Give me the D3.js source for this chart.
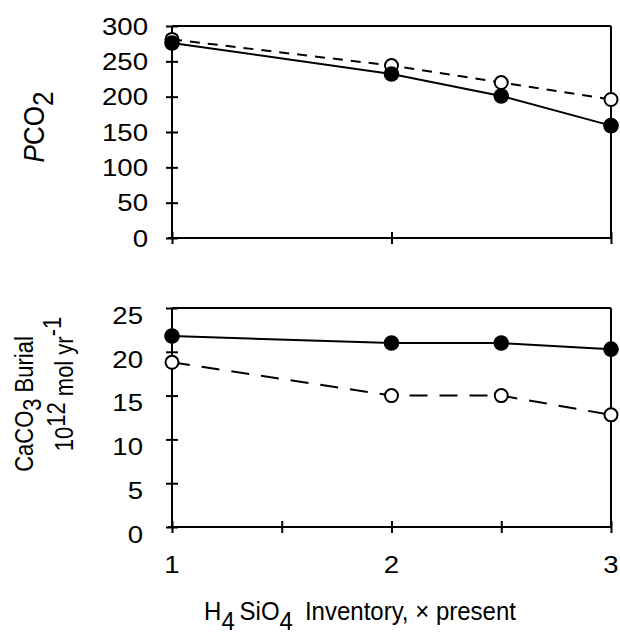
<!DOCTYPE html>
<html>
<head>
<meta charset="utf-8">
<script src="https://cdn.jsdelivr.net/npm/d3@7"></script>
<style>
  html, body { margin: 0; padding: 0; background: #fff; }
  svg text { font-family: "Liberation Sans", Arial, Helvetica, sans-serif; fill: #000; }
</style>
</head>
<body>
<svg id="chart" width="620" height="637"></svg>
<script>
// ---- data ----
const sio4 = [1, 2, 2.5, 3];                     // H4SiO4 inventory, x present
const pco2Filled = [276, 232, 201, 159];          // solid line, filled circles
const pco2Open = [281, 244, 220, 196];            // dashed line, open circles
const burialFilled = [21.8, 21.0, 21.0, 20.3];    // solid line, filled circles
const burialOpen = [18.8, 15.0, 15.0, 12.8];      // dashed line, open circles
const pco2Ticks = [0, 50, 100, 150, 200, 250, 300];
const burialTicks = [0, 5, 10, 15, 20, 25];
const xTicksTop = [1, 2, 3];
const xTicksBottom = [1, 1.5, 2, 2.5, 3];
const xTickLabels = [1, 2, 3];

// ---- layout ----
const svg = d3.select("#chart");
const SX = 1.2; // horizontal stretch of glyphs in the reference
const x = d3.scaleLinear().domain([1, 3]).range([172, 611]);
const yTop = d3.scaleLinear().domain([0, 300]).range([238, 26]);
const yBot = d3.scaleLinear().domain([0, 25]).range([527, 308]);

function panel(y, yTicks, xTicks, filled, open, dash, labelOffX, labelOffY) {
  const g = svg.append("g");
  // frame top and right
  g.append("line").attr("x1", x(1)).attr("x2", x(3)).attr("y1", y.range()[1]).attr("y2", y.range()[1])
    .attr("stroke", "#000").attr("stroke-width", 2);
  g.append("line").attr("x1", x(3)).attr("x2", x(3)).attr("y1", y.range()[0]).attr("y2", y.range()[1])
    .attr("stroke", "#000").attr("stroke-width", 2);

  // y axis
  const ya = g.append("g").attr("transform", `translate(${x(1)},0)`)
    .call(d3.axisLeft(y).tickValues(yTicks).tickSize(6).tickFormat(d3.format("d")));
  ya.select(".domain").attr("stroke-width", 2).attr("d", `M0,${y.range()[0]}V${y.range()[1]}`);
  ya.selectAll(".tick line").attr("x1", 6).attr("x2", -6).attr("stroke-width", 2);
  ya.selectAll(".tick text")
    .attr("x", 0).attr("dy", "0.36em")
    .attr("font-size", 23)
    .attr("transform", `translate(${labelOffX},${labelOffY}) scale(${SX},1)`);

  // x axis
  const xa = g.append("g").attr("transform", `translate(0,${y.range()[0]})`)
    .call(d3.axisBottom(x).tickValues(xTicks).tickSize(6).tickFormat(""));
  xa.select(".domain").attr("stroke-width", 2).attr("d", `M${x(1) - 4},0H${x(3)}`);
  xa.selectAll(".tick line").attr("y1", -6).attr("y2", 6).attr("stroke-width", 2);

  // lines
  const line = v => d3.line().x((d, i) => x(sio4[i])).y(d => y(d))(v);
  g.append("path").attr("d", line(open)).attr("fill", "none").attr("stroke", "#000")
    .attr("stroke-width", 2).attr("stroke-dasharray", dash);
  g.append("path").attr("d", line(filled)).attr("fill", "none").attr("stroke", "#000")
    .attr("stroke-width", 2);
  // markers
  g.selectAll("circle.open").data(open).enter().append("circle").attr("class", "open")
    .attr("cx", (d, i) => x(sio4[i])).attr("cy", d => y(d)).attr("r", 6.5)
    .attr("fill", "#fff").attr("stroke", "#000").attr("stroke-width", 2);
  g.selectAll("circle.filled").data(filled).enter().append("circle").attr("class", "filled")
    .attr("cx", (d, i) => x(sio4[i])).attr("cy", d => y(d)).attr("r", 7.8)
    .attr("fill", "#000");
  return g;
}

panel(yTop, pco2Ticks, xTicksTop, pco2Filled, pco2Open, "10,8", -24, 0);
const gb = panel(yBot, burialTicks, xTicksBottom, burialFilled, burialOpen, "18,12", -29, 7);

// x tick labels (bottom panel only)
gb.selectAll("g.xlab").data(xTickLabels).enter().append("g").attr("class", "xlab")
  .attr("transform", d => `translate(${x(d)},573) scale(${SX},1)`)
  .append("text").attr("text-anchor", "middle").attr("font-size", 23).text(d => d);

// x title
const xtg = svg.append("g").attr("transform", "translate(360,620) scale(0.96,1)");
const xt = xtg.append("text").attr("text-anchor", "middle").attr("font-size", 25);
xt.append("tspan").text("H");
xt.append("tspan").attr("dy", 10).text("4");
xt.append("tspan").attr("dy", -10).text("\u2009SiO");
xt.append("tspan").attr("dy", 10).text("4");
xt.append("tspan").attr("dy", -10).text("\u2002Inventory, \u00d7 present");

// y title top
const yt1g = svg.append("g").attr("transform", `translate(44,127) scale(1.1,1) rotate(-90)`);
const yt1 = yt1g.append("text").attr("text-anchor", "middle").attr("font-size", 26);
yt1.append("tspan").attr("font-style", "italic").text("P");
yt1.append("tspan").text("CO");
yt1.append("tspan").attr("dy", 8).text("2");

// y title bottom (two lines)
const yt2g = svg.append("g").attr("transform", `translate(33,404) scale(1.2,1) rotate(-90)`);
const l1 = yt2g.append("text").attr("text-anchor", "middle").attr("font-size", 22);
l1.append("tspan").text("CaCO");
l1.append("tspan").attr("dy", 7).text("3");
l1.append("tspan").attr("dy", -7).text(" Burial");
const yt3g = svg.append("g").attr("transform", `translate(73,384) scale(1.2,1) rotate(-90)`);
const l2 = yt3g.append("text").attr("text-anchor", "middle").attr("font-size", 22);
l2.append("tspan").text("10");
l2.append("tspan").attr("dy", -7).text("12");
l2.append("tspan").attr("dy", 7).text(" mol yr");
l2.append("tspan").attr("dy", -10).text("-1");
</script>
</body>
</html>
